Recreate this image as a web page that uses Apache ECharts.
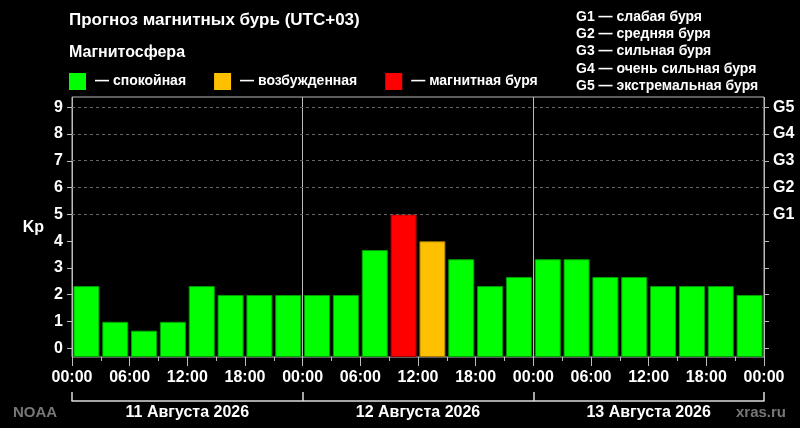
<!DOCTYPE html>
<html>
<head>
<meta charset="utf-8">
<script src="https://cdn.jsdelivr.net/npm/echarts@6/dist/echarts.min.js"></script>
<style>
  html, body { margin: 0; padding: 0; background: #000; }
  #chart { width: 800px; height: 428px; }
</style>
</head>
<body>
<div id="chart"></div>
<script>
// Kp forecast, 3-hour slots, 3 days
const days = ['11 Августа 2026', '12 Августа 2026', '13 Августа 2026'];
const slots = ['00', '03', '06', '09', '12', '15', '18', '21'];
const kp = [
    2.33, 1, 0.67, 1, 2.33, 2, 2, 2,
    2, 2, 3.67, 5, 4, 3.33, 2.33, 2.67,
    3.33, 3.33, 2.67, 2.67, 2.33, 2.33, 2.33, 2
];
const timeLabels = ['00:00', '06:00', '12:00', '18:00'];
const gLevels = [5, 6, 7, 8, 9];
const gLabels = ['G1', 'G2', 'G3', 'G4', 'G5'];
const gNames = ['слабая буря', 'средняя буря', 'сильная буря', 'очень сильная буря', 'экстремальная буря'];
const stateNames = ['спокойная', 'возбужденная', 'магнитная буря'];
const stateColors = ['#00ff00', '#ffc000', '#ff0000'];
const stateBorders = ['#00a000', '#a07800', '#a00000'];

const FONT = "'Liberation Sans', Arial, sans-serif";
const TICK = '#bbb';
// plot box runs a little below 0 and above 9
const KP_MIN = -0.31;
const KP_MAX = 9.37;

function state(v) {
    if (v >= 5) return 2;
    if (v >= 4) return 1;
    return 0;
}

const categories = [];
days.forEach(function (d) {
    slots.forEach(function (s) { categories.push(d + ' ' + s); });
});

const series = stateNames.map(function (name, k) {
    return {
        name: name,
        type: 'bar',
        xAxisIndex: 0,
        yAxisIndex: 0,
        barWidth: 26,
        barGap: '-100%',
        itemStyle: { color: stateColors[k], borderColor: stateBorders[k], borderWidth: 1 },
        data: kp.map(function (v) { return state(v) === k ? v : '-'; }),
        markLine: k === 0 ? {
            silent: true,
            symbol: 'none',
            label: { show: false },
            lineStyle: { color: '#666', type: [3, 3], width: 1 },
            data: gLevels.map(function (g) { return { yAxis: g }; })
        } : undefined
    };
});

const chart = echarts.init(document.getElementById('chart'));
const option = {
    backgroundColor: '#000',
    animation: false,
    textStyle: { fontFamily: FONT },
    title: [
        {
            text: 'Прогноз магнитных бурь (UTC+03)', left: 69, top: 12, padding: 0,
            textStyle: { color: '#fff', fontSize: 17, fontWeight: 'bold', fontFamily: FONT }
        },
        {
            text: 'Магнитосфера', left: 69, top: 45, padding: 0,
            textStyle: { color: '#fff', fontSize: 16, fontWeight: 'bold', fontFamily: FONT }
        },
        {
            text: gLabels.map(function (g, i) { return g + ' — ' + gNames[i]; }).join('\n'),
            left: 576, top: 8, padding: 0,
            textStyle: { color: '#fff', fontSize: 14, fontWeight: 'bold', lineHeight: 17.4, fontFamily: FONT }
        },
        {
            text: 'NOAA', left: 13, top: 405, padding: 0,
            textStyle: { color: '#777', fontSize: 15, fontWeight: 'bold', fontFamily: FONT }
        },
        {
            text: 'xras.ru', right: 14, top: 405, padding: 0,
            textStyle: { color: '#777', fontSize: 15, fontWeight: 'bold', fontFamily: FONT }
        }
    ],
    legend: {
        left: 69, top: 73, padding: 0,
        icon: 'rect', itemWidth: 17, itemHeight: 17, itemGap: 28,
        itemStyle: { borderWidth: 0 },
        data: stateNames,
        formatter: '— {name}',
        textStyle: { color: '#fff', fontSize: 14, fontWeight: 'bold', fontFamily: FONT, padding: [0, 0, 0, 4] },
        selectedMode: false
    },
    grid: [
        {
            left: 72, right: 36, top: 97, bottom: 71,
            show: true, borderColor: '#bbb', borderWidth: 1, backgroundColor: '#000'
        },
        // same width, spans exactly Kp 0..9, carries the tick labels
        { left: 72, right: 36, top: 107.3, bottom: 79.7, show: false }
    ],
    xAxis: [
        {
            type: 'category', data: categories, position: 'bottom', offset: 0,
            axisLine: { show: false }, axisTick: { show: false }, axisLabel: { show: false }
        },
        {
            type: 'value', min: 0, max: 72, interval: 6, position: 'bottom', offset: 0,
            axisLine: { show: false },
            axisTick: { show: true, length: 9, lineStyle: { color: TICK } },
            splitLine: { show: false },
            axisLabel: {
                color: '#fff', fontSize: 16, fontWeight: 'bold', margin: 13, fontFamily: FONT,
                formatter: function (v) { return timeLabels[(v / 6) % 4]; }
            }
        },
        {
            type: 'value', min: 0, max: 72, interval: 3, position: 'bottom', offset: 0,
            axisLine: { show: false },
            axisTick: { show: true, length: 4, lineStyle: { color: TICK } },
            splitLine: { show: false },
            axisLabel: { show: false }
        },
        {
            type: 'category', data: days, position: 'bottom', offset: 44,
            axisLine: { show: true, lineStyle: { color: '#ddd', width: 1.5 } },
            axisTick: { show: true, inside: true, length: 9, lineStyle: { color: '#ddd', width: 1.5 } },
            splitLine: { show: true, lineStyle: { color: '#bbb', width: 1 } },
            axisLabel: { color: '#fff', fontSize: 16, fontWeight: 'bold', margin: 4, fontFamily: FONT }
        },
        { gridIndex: 1, type: 'value', show: false, min: 0, max: 1 }
    ],
    yAxis: [
        {
            type: 'value', min: KP_MIN, max: KP_MAX, startValue: KP_MIN, position: 'left',
            axisLine: { show: false }, axisTick: { show: false },
            axisLabel: { show: false }, splitLine: { show: false }
        },
        {
            gridIndex: 1, type: 'value', min: 0, max: 9, interval: 1, position: 'left',
            name: 'Kp', nameLocation: 'middle', nameRotate: 0, nameGap: 28,
            nameTextStyle: { color: '#fff', fontSize: 16, fontWeight: 'bold', fontFamily: FONT },
            axisLine: { show: false },
            axisTick: { show: true, length: 5, lineStyle: { color: TICK, width: 1 } },
            splitLine: { show: false },
            axisLabel: { color: '#fff', fontSize: 16, fontWeight: 'bold', margin: 9, fontFamily: FONT }
        },
        {
            gridIndex: 1, type: 'value', min: 0, max: 9, interval: 1, position: 'right',
            axisLine: { show: false },
            axisTick: { show: true, length: 5, lineStyle: { color: TICK, width: 1 } },
            splitLine: { show: false },
            axisLabel: {
                color: '#fff', fontSize: 16, fontWeight: 'bold', margin: 9, fontFamily: FONT,
                formatter: function (v) {
                    const i = gLevels.indexOf(v);
                    return i < 0 ? '' : gLabels[i];
                }
            }
        }
    ],
    series: series
};
chart.setOption(option);
</script>
</body>
</html>
